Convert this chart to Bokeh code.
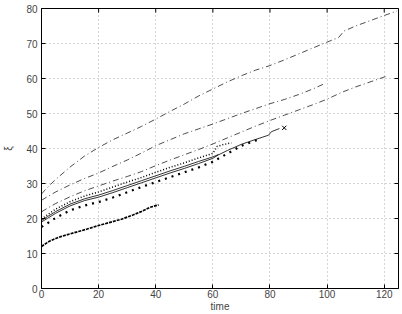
import math
from bokeh.plotting import figure
from bokeh.models import FixedTicker, Range1d
from bokeh.embed import file_html
from bokeh.resources import INLINE

# ---- data ----
tA = [0, 2, 5, 10, 15, 20, 25, 30, 35, 40, 45, 50, 55, 60, 65, 70, 75, 80, 85, 90, 95, 100, 104, 106, 110, 115, 120, 124.5]
yA = [27.0, 28.8, 31.2, 34.7, 37.8, 40.3, 42.5, 44.4, 46.3, 48.4, 50.6, 52.7, 55.0, 57.0, 59.0, 60.8, 62.4, 63.7, 65.3, 67.0, 68.7, 70.4, 71.7, 73.6, 75.0, 76.5, 78.0, 79.3]

tB = [0, 2, 5, 10, 15, 20, 25, 30, 35, 40, 45, 50, 55, 60, 65, 70, 75, 80, 85, 90, 95, 99.3]
yB = [25.2, 26.2, 27.6, 29.6, 31.4, 33.0, 34.9, 36.7, 38.7, 40.8, 42.5, 44.2, 45.6, 47.0, 48.5, 50.0, 51.4, 52.8, 54.0, 55.4, 57.0, 58.6]

tC = [0, 2, 5, 10, 15, 20, 25, 30, 35, 40, 45, 50, 55, 60, 65, 70, 75, 80, 85, 90, 95, 100, 105, 110, 115, 121]
yC = [21.9, 22.9, 24.3, 26.2, 27.9, 29.3, 30.7, 32.0, 33.4, 35.1, 36.7, 38.2, 39.7, 41.3, 43.0, 44.7, 46.4, 48.0, 49.5, 51.0, 52.5, 54.1, 56.0, 57.6, 59.0, 60.7]

tD = [0, 2, 5, 10, 15, 20, 25, 30, 35, 40, 45, 50, 55, 60, 61.5, 64, 66.5]
yD = [19.8, 21.0, 22.7, 24.8, 26.4, 27.6, 29.0, 30.4, 31.7, 33.2, 34.6, 35.9, 37.3, 38.6, 40.6, 41.2, 41.6]

tS1 = [0, 2, 5, 10, 15, 20, 25, 30, 35, 40, 45, 50, 55, 60, 62]
yS1 = [19.4, 20.5, 22.0, 24.1, 25.6, 26.7, 28.0, 29.4, 30.8, 32.2, 33.6, 34.9, 36.3, 37.6, 38.3]

tS2 = [0, 2, 5, 10, 15, 20, 25, 30, 35, 40, 45, 50, 55, 60, 62, 65, 70, 75, 79.5, 80.5, 83.3]
yS2 = [19.0, 20.0, 21.5, 23.6, 25.1, 26.1, 27.4, 28.8, 30.2, 31.6, 33.0, 34.3, 35.7, 37.2, 38.2, 39.4, 41.2, 42.6, 43.8, 44.8, 45.7]

tE = [0, 2, 5, 10, 15, 20, 25, 30, 35, 40, 45, 50, 55, 60, 65, 70, 75.4]
yE = [17.6, 18.6, 20.2, 22.3, 23.7, 24.7, 26.0, 27.5, 29.0, 30.4, 31.8, 33.2, 34.6, 36.2, 38.5, 40.8, 42.4]

tF = [0, 1, 2, 3, 5, 7, 10, 13, 16, 20, 24, 28, 32, 35, 38, 41]
yF = [12.0, 12.6, 13.1, 13.6, 14.3, 14.9, 15.6, 16.3, 17.0, 18.0, 18.9, 19.8, 21.0, 22.0, 23.2, 23.9]

mark_t = [85.0]
mark_y = [45.9]

x_ticks = [0, 20, 40, 60, 80, 100, 120]
y_ticks = [0, 10, 20, 30, 40, 50, 60, 70, 80]
x_min, x_max = 0, 125
y_min, y_max = 0, 80

FONT = "Liberation Sans"

p = figure(width=402, height=314, output_backend="svg", toolbar_location=None,
           x_range=Range1d(x_min, x_max), y_range=Range1d(y_min, y_max),
           min_border_left=41, min_border_right=4, min_border_top=8, min_border_bottom=24,
           x_axis_label="time", y_axis_label="ξ")
p.background_fill_color = "white"
p.border_fill_color = "white"
p.outline_line_color = "black"
p.outline_line_width = 1

for ax in (p.xaxis[0], p.yaxis[0]):
    ax.major_tick_in = 4
    ax.major_tick_out = 0
    ax.minor_tick_line_color = None
    ax.axis_line_color = "black"
    ax.major_label_text_font = FONT
    ax.major_label_text_font_size = "10px"
    ax.axis_label_text_font = FONT
    ax.axis_label_text_font_size = "10px"
    ax.axis_label_text_font_style = "normal"
p.xaxis[0].ticker = FixedTicker(ticks=x_ticks)
p.yaxis[0].ticker = FixedTicker(ticks=y_ticks)
p.xaxis[0].major_label_standoff = 1
p.xaxis[0].axis_label_standoff = 0
p.yaxis[0].major_label_standoff = 4
p.yaxis[0].axis_label_standoff = 9

p.xgrid.ticker = FixedTicker(ticks=x_ticks)
p.ygrid.ticker = FixedTicker(ticks=y_ticks)
for g in (p.xgrid[0], p.ygrid[0]):
    g.grid_line_color = "#a8a8a8"
    g.grid_line_dash = "1 3"
    g.grid_line_width = 1

# inward ticks on the top and right edges (markers clipped by the frame)
p.scatter(x_ticks, [y_max] * len(x_ticks), marker="dash", size=8, angle=math.pi / 2,
          line_color="black", line_width=1)
p.scatter([x_max] * len(y_ticks), y_ticks, marker="dash", size=8, angle=0,
          line_color="black", line_width=1)

dd = "6 3 1 3"
p.line(tA, yA, line_color="#222222", line_width=0.8, line_dash=dd)
p.line(tB, yB, line_color="#222222", line_width=0.8, line_dash=dd)
p.line(tC, yC, line_color="#222222", line_width=0.8, line_dash=dd)
p.line(tD, yD, line_color="black", line_width=1.5, line_dash="1 2")
p.line(tS1, yS1, line_color="black", line_width=0.8)
p.line(tS2, yS2, line_color="black", line_width=0.8)
p.line(tE, yE, line_color="black", line_width=2.2, line_dash="2 5")
p.line(tF, yF, line_color="black", line_width=1.7, line_dash="3 1")
p.scatter(mark_t, mark_y, marker="x", size=6, line_color="black", line_width=1)

open("out.html", "w").write(file_html(p, INLINE))
